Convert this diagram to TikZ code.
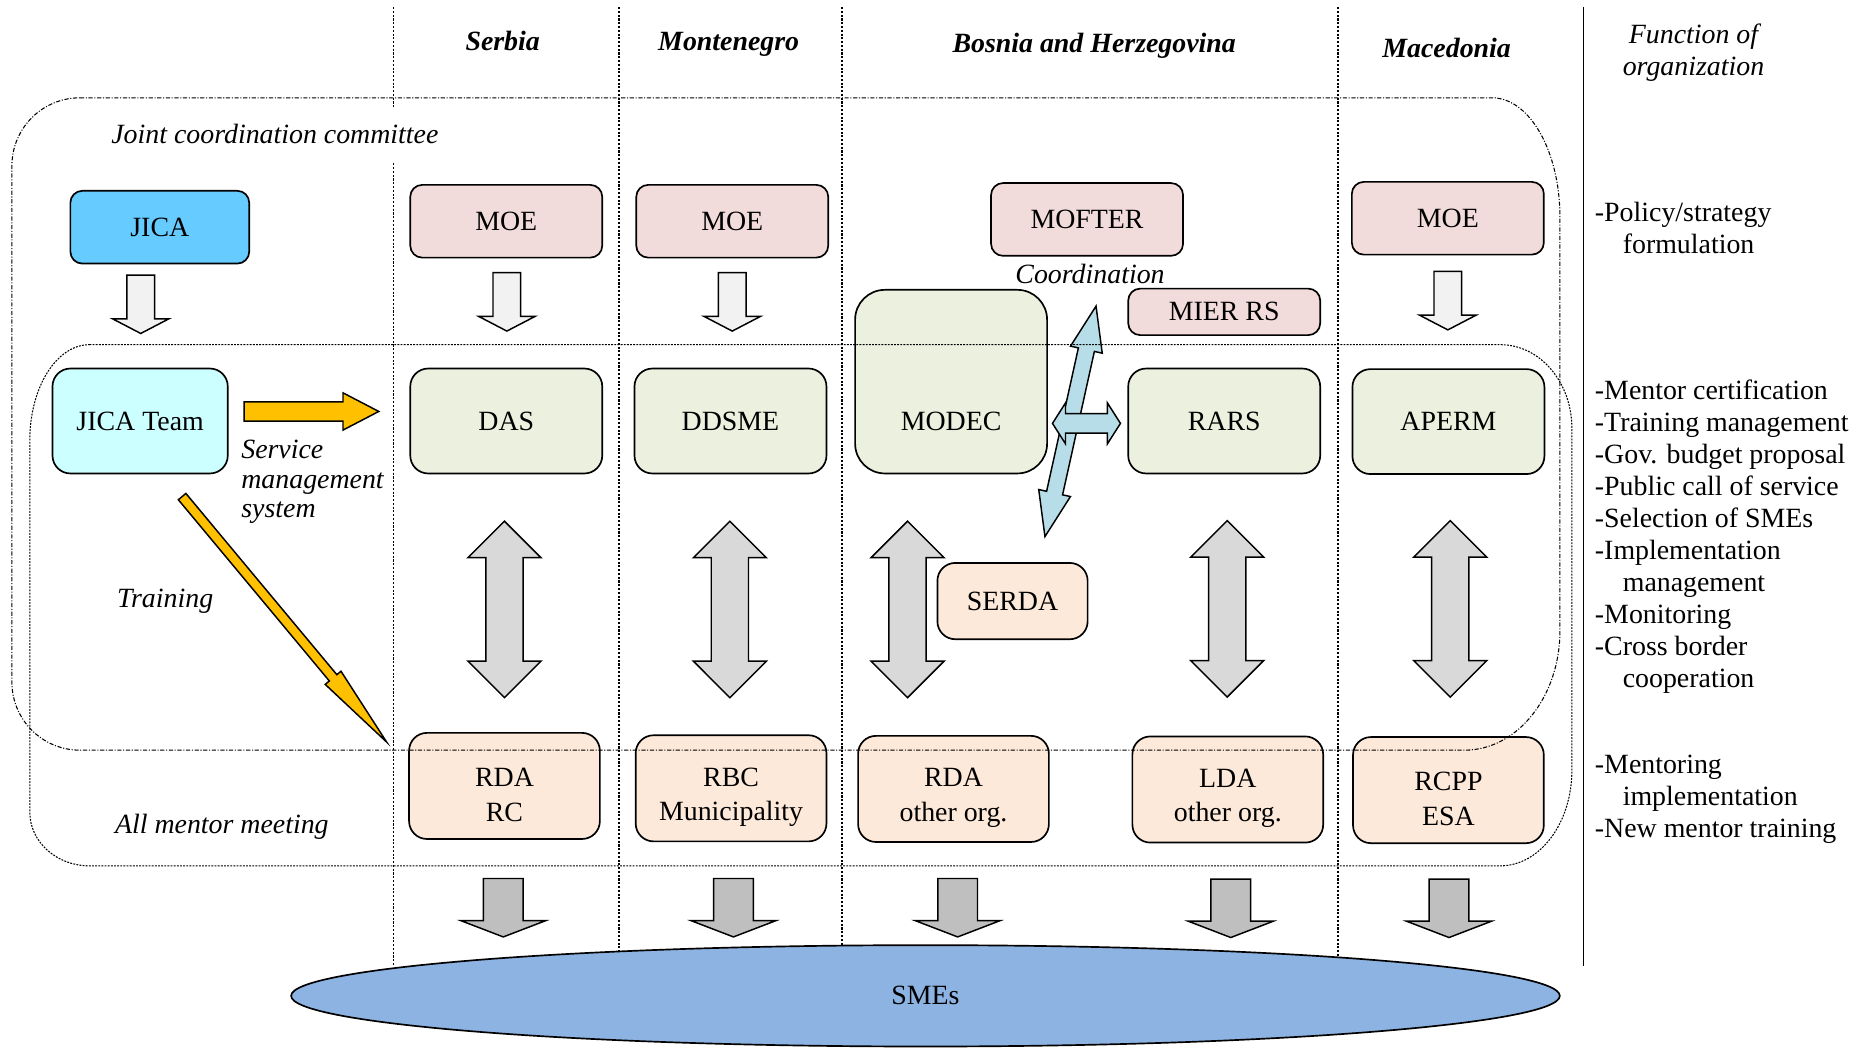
\documentclass[tikz,border=0pt]{standalone}
\usepackage{fontspec}
\setmainfont{Liberation Serif}
\usepackage{tikz}
\usetikzlibrary{shapes.arrows, shapes.geometric, positioning, calc}

\definecolor{jicablue}{HTML}{66CCFF}
\definecolor{teamcyan}{HTML}{CCFFFF}
\definecolor{moepink}{HTML}{F2DCDB}
\definecolor{agencygreen}{HTML}{EBF1DE}
\definecolor{mentorpeach}{HTML}{FDE9D9}
\definecolor{arrowlight}{HTML}{F2F2F2}
\definecolor{arrowmid}{HTML}{D9D9D9}
\definecolor{arrowdark}{HTML}{BFBFBF}
\definecolor{trainyellow}{HTML}{FFC000}
\definecolor{coordblue}{HTML}{B7DEE8}
\definecolor{smeblue}{HTML}{8DB3E2}

\newcommand{\diafont}{\fontsize{13.3pt}{15.3pt}\selectfont}
\newcommand{\lowtext}{\rule{0pt}{0.61cm}}

\tikzset{
    orgbox/.style={draw, line width=0.8pt, rounded corners=0.2cm, minimum width=3.22cm, minimum height=1.22cm, inner sep=1pt, align=center},
    jicabox/.style={orgbox, fill=jicablue, minimum width=3cm},
    teambox/.style={orgbox, fill=teamcyan, minimum width=2.94cm, minimum height=1.76cm, rounded corners=0.3cm},
    moebox/.style={orgbox, fill=moepink},
    agencybox/.style={orgbox, fill=agencygreen, minimum height=1.76cm, rounded corners=0.3cm},
    mentorbox/.style={orgbox, fill=mentorpeach, minimum width=3.2cm, minimum height=1.78cm, rounded corners=0.3cm},
    downlight/.style={single arrow, draw, line width=0.7pt, fill=arrowlight, rotate=-90, anchor=tail, inner xsep=0, inner ysep=0.22cm, minimum height=0.98cm, minimum width=0.92cm, single arrow head extend=0.24cm, single arrow tip angle=125},
    downdark/.style={single arrow, draw, line width=0.7pt, fill=arrowdark, rotate=-90, anchor=tail, inner xsep=0, inner ysep=0.32cm, minimum height=0.98cm, minimum width=1.4cm, single arrow head extend=0.38cm, single arrow tip angle=138},
    updown/.style={double arrow, draw, line width=0.7pt, fill=arrowmid, rotate=90, inner xsep=0, inner ysep=0.3cm, minimum height=2.96cm, minimum width=1.2cm, double arrow head extend=0.3cm, double arrow tip angle=90},
    yellowarrow/.style={single arrow, draw, line width=0.7pt, fill=trainyellow, anchor=tail, inner xsep=0},
    bluearrow/.style={double arrow, draw, line width=0.7pt, fill=coordblue, inner xsep=0},
    colline/.style={line width=0.6pt, dash pattern=on 1pt off 0.8pt},
    country/.style={inner sep=0, font=\diafont\bfseries\itshape},
    note/.style={inner sep=0, font=\diafont\itshape},
    funclist/.style={inner sep=0, anchor=west, align=left}
}

\begin{document}
\begin{tikzpicture}[x=0.02cm, y=-0.02cm, every node/.style={font=\diafont}]
    \useasboundingbox (0,0) rectangle (1568,880);

    % country columns
    \draw[colline] (330,6) -- (330,90);
    \draw[colline] (330,137) -- (330,810);
    \foreach \cx in {519,706,1122}
        \draw[colline] (\cx,6) -- (\cx,810);
    \draw[line width=0.6pt] (1327.5,6) -- (1327.5,810);

    \node[country] (serbia) at (421.5,34) {Serbia};
    \node[country] (montenegro) at (611,37) {Montenegro};
    \node[country] (bosnia) at (917.5,38) {Bosnia and Herzegovina};
    \node[country] (macedonia) at (1213,40) {Macedonia};
    \node[note, align=center] (function) at (1420,44) {Function of\\organization};

    \node[ellipse, draw, line width=0.8pt, fill=smeblue, inner sep=0, minimum width=21.28cm, minimum height=1.7cm] (smes) at (776,835) {SMEs};

    % organizations
    \node[jicabox] (jica) at (134,190.5) {JICA};
    \node[teambox] (team) at (117.5,353) {JICA Team};
    \node[moebox] (moesrb) at (424.5,185.5) {MOE};
    \node[moebox] (moemne) at (614,185.5) {MOE};
    \node[moebox] (mofter) at (911.5,184) {MOFTER};
    \node[moebox] (moemkd) at (1214,183) {MOE};
    \node[moebox, minimum height=0.78cm] (mierrs) at (1026.5,261.5) {MIER RS};

    \node[agencybox] (das) at (424.5,353) {DAS};
    \node[agencybox] (ddsme) at (612.5,353) {DDSME};
    \node[agencybox, minimum height=3.08cm, rounded corners=0.5cm,
          label={[name=modectext, yshift=-0.66cm]center:MODEC}] (modec) at (797.5,320) {};
    \node[agencybox] (rars) at (1026.5,353) {RARS};
    \node[agencybox] (aperm) at (1214.5,353.5) {APERM};

    \node[mentorbox, minimum width=2.52cm, minimum height=1.28cm] (serda) at (849,504) {SERDA};
    \node[mentorbox] (rdasrb) at (423,659) {\lowtext RDA\\[1.2pt]RC};
    \node[mentorbox] (rbc) at (613,661) {\lowtext RBC\\[1.2pt]Municipality};
    \node[mentorbox] (rdabih) at (799.5,661.5) {\lowtext RDA\\[1.2pt]other org.};
    \node[mentorbox] (lda) at (1029.5,662) {\lowtext LDA\\[1.2pt]other org.};
    \node[mentorbox] (rcpp) at (1214.5,662.5) {\lowtext RCPP\\[1.2pt]ESA};

    % block arrows
    \node[downlight] (jicadown) at (118,230) {};
    \node[downlight] (srbdown) at (425,228) {};
    \node[downlight] (mnedown) at (614,228) {};
    \node[downlight] (mkddown) at (1214,227) {};

    \node[updown] (srbboth) at (423,511) {};
    \node[updown] (mneboth) at (612,511) {};
    \node[updown] (bihboth) at (761,511) {};
    \node[updown] (rsboth) at (1029,510.5) {};
    \node[updown] (mkdboth) at (1216,510.5) {};

    \node[downdark] (srbsme) at (422,736) {};
    \node[downdark] (mnesme) at (615,736) {};
    \node[downdark] (bihsme) at (803,736) {};
    \node[downdark] (rssme) at (1032,736.5) {};
    \node[downdark] (mkdsme) at (1215,736.5) {};

    \node[yellowarrow, inner ysep=0.15cm, minimum height=2.26cm, minimum width=0.6cm, single arrow head extend=0.15cm, single arrow tip angle=55] (service) at (204,345) {};
    \node[yellowarrow, rotate=-50.2, inner ysep=0.07cm, minimum height=5.36cm, minimum width=0.32cm, single arrow head extend=0.09cm, single arrow tip angle=14] (training) at (152.3,415.9) {};

    \node[bluearrow, rotate=77.5, inner ysep=0.125cm, minimum height=3.96cm, minimum width=0.52cm, double arrow head extend=0.135cm, double arrow tip angle=40] (coordup) at (897.6,353.3) {};
    \node[bluearrow, inner ysep=0.15cm, minimum height=1.14cm, minimum width=0.66cm, double arrow head extend=0.18cm, double arrow tip angle=115] (coordside) at (911,355) {};

    % labels
    \node[note, anchor=west] (jcctext) at (93,112) {Joint coordination committee};
    \node[note, align=left, anchor=west, font=\fontsize{13.3pt}{14.2pt}\selectfont\itshape] (servicetext) at (202,404) {Service\\management\\system};
    \node[note] (trainingtext) at (138.5,504) {Training};
    \node[note] (mentortext) at (186,693) {All mentor meeting};
    \node[note] (coordtext) at (914,230) {Coordination};

    \node[funclist] (fpolicy) at (1337,191.5) {-Policy/strategy\\\hspace*{1em}formulation};
    \node[funclist] (fservice) at (1337,450) {-Mentor certification\\-Training management\\-Gov. budget proposal\\-Public call of service\\-Selection of SMEs\\-Implementation\\\hspace*{1em}management\\-Monitoring\\-Cross border\\\hspace*{1em}cooperation};
    \node[funclist] (fmentor) at (1337,670) {-Mentoring\\\hspace*{1em}implementation\\-New mentor training};

    % joint coordination committee
    \draw[line width=0.5pt, dash pattern=on 2pt off 0.8pt on 0.5pt off 0.8pt]
        (67,82) -- (1251,82) .. controls (1282.5,82) and (1308,126.8) .. (1308,182)
        -- (1308,529) .. controls (1308,584.2) and (1272.2,629) .. (1228,629)
        -- (67,629) .. controls (35.5,629) and (10,603.5) .. (10,572)
        -- (10,139) .. controls (10,107.5) and (35.5,82) .. (67,82) -- cycle;
    % all mentor meeting
    \draw[line width=0.5pt, dash pattern=on 0.9pt off 0.6pt]
        (75,289) -- (1258,289) .. controls (1291.1,289) and (1318,320.3) .. (1318,359)
        -- (1318,646) .. controls (1318,690.2) and (1291.1,726) .. (1258,726)
        -- (75,726) .. controls (47.4,726) and (25,705.9) .. (25,681)
        -- (25,369) .. controls (25,324.8) and (47.4,289) .. (75,289) -- cycle;
\end{tikzpicture}
\end{document}
